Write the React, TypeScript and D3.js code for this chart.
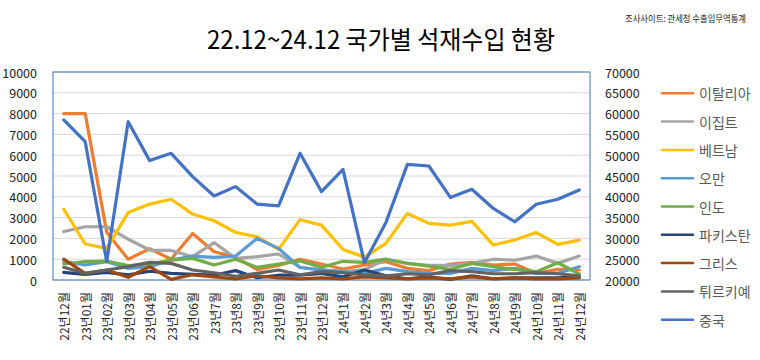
import React from "react";
import * as d3 from "d3";

const months = [
  "22년12월", "23년01월", "23년02월", "23년03월", "23년04월", "23년05월", "23년06월",
  "23년7월", "23년8월", "23년9월", "23년10월", "23년11월", "23년12월",
  "24년1월", "24년2월", "24년3월", "24년4월", "24년5월", "24년6월", "24년7월",
  "24년8월", "24년9월", "24년10월", "24년11월", "24년12월",
];

const italy = [8000, 8000, 2300, 1000, 1500, 1000, 2240, 1360, 1100, 500, 700, 1000, 770, 530, 720, 880, 560, 450, 770, 850, 720, 770, 320, 510, 480];
const egypt = [2330, 2560, 2560, 1960, 1440, 1420, 1120, 1800, 1040, 1120, 1250, 600, 500, 400, 500, 1000, 800, 700, 700, 800, 1000, 950, 1150, 800, 1150];
const vietnam = [3400, 1730, 1520, 3240, 3650, 3880, 3170, 2850, 2290, 2080, 1470, 2900, 2640, 1470, 1100, 1760, 3200, 2720, 2640, 2820, 1680, 1920, 2280, 1710, 1920];
const oman = [880, 720, 880, 560, 640, 960, 1150, 1090, 1150, 2000, 1520, 600, 480, 400, 320, 560, 400, 320, 320, 560, 450, 560, 320, 320, 640];
const india = [770, 880, 910, 690, 770, 960, 1040, 720, 1000, 610, 770, 920, 610, 900, 850, 1000, 800, 660, 510, 800, 640, 510, 400, 830, 290];
const pakistan = [370, 270, 370, 250, 420, 320, 270, 230, 450, 110, 230, 230, 320, 150, 480, 200, 60, 150, 30, 200, 60, 100, 100, 100, 150];
const greece = [1000, 320, 480, 130, 640, 30, 250, 150, 50, 200, 100, 50, 100, 50, 150, 100, 50, 100, 50, 150, 50, 100, 50, 50, 100];
const turkey = [610, 320, 480, 640, 850, 800, 480, 350, 180, 320, 480, 250, 400, 350, 250, 200, 300, 250, 450, 400, 300, 300, 350, 300, 200];
const china = [58500, 53250, 24400, 58050, 48700, 50450, 44850, 40200, 42450, 38250, 37800, 50450, 41250, 46600, 24150, 33850, 47800, 47400, 39850, 41800, 37200, 34000, 38200, 39400, 41650];

const leftTicks = [0, 1000, 2000, 3000, 4000, 5000, 6000, 7000, 8000, 9000, 10000];
const rightTicks = [20000, 25000, 30000, 35000, 40000, 45000, 50000, 55000, 60000, 65000, 70000];

const title = "22.12~24.12 국가별 석재수입 현황";
const source = "조사사이트: 관세청 수출입무역통계";

type Series = { name: string; values: number[]; color: string; axis: "left" | "right" };

const seriesList: Series[] = [
  { name: "이탈리아", values: italy, color: "#ED7D31", axis: "left" },
  { name: "이집트", values: egypt, color: "#A5A5A5", axis: "left" },
  { name: "베트남", values: vietnam, color: "#FFC000", axis: "left" },
  { name: "오만", values: oman, color: "#5B9BD5", axis: "left" },
  { name: "인도", values: india, color: "#70AD47", axis: "left" },
  { name: "파키스탄", values: pakistan, color: "#264478", axis: "left" },
  { name: "그리스", values: greece, color: "#9E480E", axis: "left" },
  { name: "튀르키예", values: turkey, color: "#636363", axis: "left" },
  { name: "중국", values: china, color: "#4472C4", axis: "right" },
];

const FONT = "'Noto Sans CJK KR', 'Noto Sans', sans-serif";

export default function App() {
  const W = 760, H = 360;
  const x0 = 53, x1 = 590, yTop = 72, yBot = 280;
  const x = d3.scaleBand<string>().domain(months).range([x0, x1]).padding(0);
  const yL = d3.scaleLinear().domain([0, 10000]).range([yBot, yTop]);
  const yR = d3.scaleLinear().domain([20000, 70000]).range([yBot, yTop]);
  const cx = (m: string) => (x(m) as number) + x.bandwidth() / 2;

  const lineFor = (s: Series) =>
    d3
      .line<number>()
      .x((_, i) => cx(months[i]))
      .y((v) => (s.axis === "left" ? yL(v) : yR(v)))(s.values) as string;

  const legendX = 662, legendY0 = 93.3, legendStep = 28.3;

  return (
    <svg width={W} height={H} style={{ position: "absolute", left: 0, top: 0, background: "#fff" }} fontFamily={FONT}>
      <rect x={0} y={0} width={W} height={H} fill="#fff" />
      <text x={381} y={38} textAnchor="middle" dominantBaseline="central" fontSize={25} fill="#000" textLength={348} lengthAdjust="spacingAndGlyphs">
        {title}
      </text>
      <text x={625} y={18} fontSize={9} fill="#222" dominantBaseline="central" textLength={121} lengthAdjust="spacingAndGlyphs">
        {source}
      </text>
      {leftTicks.map((t) => (
        <line key={"g" + t} x1={x0} x2={x1} y1={yL(t)} y2={yL(t)} stroke="#D9D9D9" strokeWidth={1} />
      ))}
      <rect x={x0} y={yTop} width={x1 - x0} height={yBot - yTop} fill="none" stroke="#4472C4" strokeWidth={1} />
      {leftTicks.map((t) => (
        <text key={"l" + t} x={37} y={yL(t)} textAnchor="end" dominantBaseline="central" fontSize={12.5} fill="#222">
          {t}
        </text>
      ))}
      {rightTicks.map((t) => (
        <text key={"r" + t} x={605} y={yR(t)} textAnchor="start" dominantBaseline="central" fontSize={12.5} fill="#222">
          {t}
        </text>
      ))}
      {months.map((m) => (
        <text
          key={m}
          transform={`translate(${cx(m)},${292}) rotate(-90)`}
          textAnchor="end"
          dominantBaseline="central"
          fontSize={12}
          fill="#222"
        >
          {m}
        </text>
      ))}
      {seriesList.map((s) => (
        <path key={s.name} d={lineFor(s)} fill="none" stroke={s.color} strokeWidth={3.2} strokeLinejoin="round" strokeLinecap="round" />
      ))}
      {seriesList.map((s, i) => (
        <g key={"lg" + s.name} transform={`translate(${legendX},${legendY0 + i * legendStep})`}>
          <line x1={0} x2={31} y1={0} y2={0} stroke={s.color} strokeWidth={2.5} strokeLinecap="round" />
          <text x={37} y={0} dominantBaseline="central" fontSize={14} fill="#595959">
            {s.name}
          </text>
        </g>
      ))}
    </svg>
  );
}
